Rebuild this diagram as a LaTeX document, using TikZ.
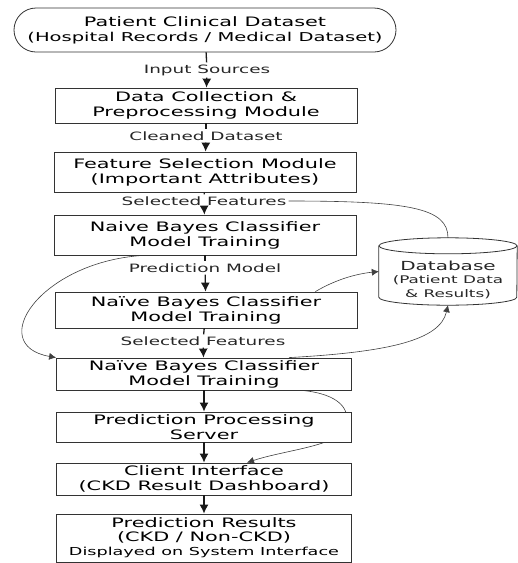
\documentclass[tikz,border=0pt]{standalone}
\usepackage{fontspec}
\setmainfont{DejaVu Sans}[FakeStretch=1.6]
\usetikzlibrary{shapes,arrows.meta,positioning,calc,backgrounds}

\begin{document}
\begin{tikzpicture}[x=1pt,y=-1pt,>={Latex[length=9pt,width=9pt]}]
    \tikzstyle{box} = [draw=black!80, thick, fill=white, align=center, minimum width=302pt, inner sep=2pt, font=\fontsize{13}{15}\selectfont]
    \tikzstyle{lbl} = [inner sep=2pt, font=\fontsize{11.5}{12}\selectfont, text=black!85]
    \tikzstyle{flow} = [draw=black!90, line width=1.3pt]
    \tikzstyle{link} = [draw=black!75, semithick]
    \useasboundingbox (0,0) rectangle (518,563);

    % Main chain
    \node[box, rounded rectangle, minimum width=386pt, minimum height=44pt] (src) at (205,30) {Patient Clinical Dataset\\{\fontsize{12.2}{15}\selectfont(Hospital Records / Medical Dataset)}};
    \node[lbl] (in) at (207,70) {Input Sources};
    \node[box, minimum height=35pt] (pre) at (206,105.5) {Data Collection \&\\Preprocessing Module};
    \node[lbl] (cln) at (206,136) {Cleaned Dataset};
    \node[box, minimum height=40pt] (fsel) at (205,172) {Feature Selection Module\\(Important Attributes)};
    \node[lbl] (sf1) at (204,201) {Selected Features};
    \node[box, minimum height=40pt] (nb1) at (205,235) {Naive Bayes Classifier\\Model Training};
    \node[lbl] (pm) at (205,268) {Prediction Model};
    \node[box, minimum height=36pt] (nb2) at (206,310) {Naïve Bayes Classifier\\Model Training};
    \node[lbl] (sf2) at (203,341) {Selected Features};
    \node[box, minimum width=295pt, minimum height=32pt] (nb3) at (204,374) {Naïve Bayes Classifier\\Model Training};
    \node[box, minimum width=295pt, minimum height=30pt] (srv) at (204,427) {Prediction Processing\\Server};
    \node[box, minimum width=295pt, minimum height=32pt] (cli) at (204,479) {Client Interface\\(CKD Result Dashboard)};
    \node[box, minimum width=295pt, minimum height=48pt, font=\fontsize{13}{14}\selectfont] (res) at (204,538) {Prediction Results\\(CKD / Non-CKD)\\{\fontsize{11}{13}\selectfont Displayed on System Interface}};

    % Database
    \node[minimum width=138pt, minimum height=67pt, inner sep=0pt] (db) at (448,271.5) {};
    \draw[thick, draw=black!80] ([yshift=-8pt]db.north west) -- ([yshift=8pt]db.south west) arc (180:360:69pt and 8pt) -- ([yshift=-8pt]db.north east);
    \draw[thick, draw=black!80] ([yshift=-8pt]db.north) ellipse (69pt and 8pt);
    \node[align=center, font=\fontsize{10.5}{13.5}\selectfont, text=black!85] (dbtxt) at ([yshift=-8pt]db.center) {{\fontsize{12.5}{13.5}\selectfont Database}\\(Patient Data\\\& Results)};

    % Arrows
    \draw[flow] (src) -- (in);
    \draw[flow, ->] (in) -- (pre);
    \draw[flow] (pre) -- (cln);
    \draw[flow, ->] (cln) -- (fsel);
    \draw[flow] (fsel) -- (sf1);
    \draw[flow, ->] (sf1) -- (nb1);
    \draw[flow] (nb1) -- (pm);
    \draw[flow, ->] (pm) -- (nb2);
    \draw[flow] (nb2) -- (sf2);
    \draw[flow, ->] (sf2) -- (nb3);
    \draw[flow, ->] (nb3) -- (srv);
    \draw[flow, ->] (srv) -- (cli);
    \draw[flow, ->] (cli) -- (res);

    % Curved links
    \begin{pgfonlayer}{background}
    \draw[link] (sf1.east) .. controls +(120,0) and +(0,-30) .. (db.north);
    \draw[link, ->, >={Latex[length=7pt,width=7pt]}] ([xshift=-62pt]nb1.south) .. controls (40,262) and (-15,345) .. (nb3.north west);
    \draw[link, ->, >={Latex[length=7pt,width=7pt]}] ([xshift=-42pt]nb2.north east) .. controls (335,280) and (355,274) .. (db.west);
    \draw[link, ->, >={Latex[length=7pt,width=7pt]}] ([xshift=85pt]nb3.north) .. controls (390,352) and (440,340) .. (db.south);
    \draw[link, ->, >={Latex[length=7pt,width=7pt]}] ([xshift=-50pt]nb3.south east) .. controls (340,394) and (352,410) .. (345,428) .. controls (338,446) and (285,450) .. ([xshift=43pt]cli.north);
    \end{pgfonlayer}
\end{tikzpicture}
\end{document}
